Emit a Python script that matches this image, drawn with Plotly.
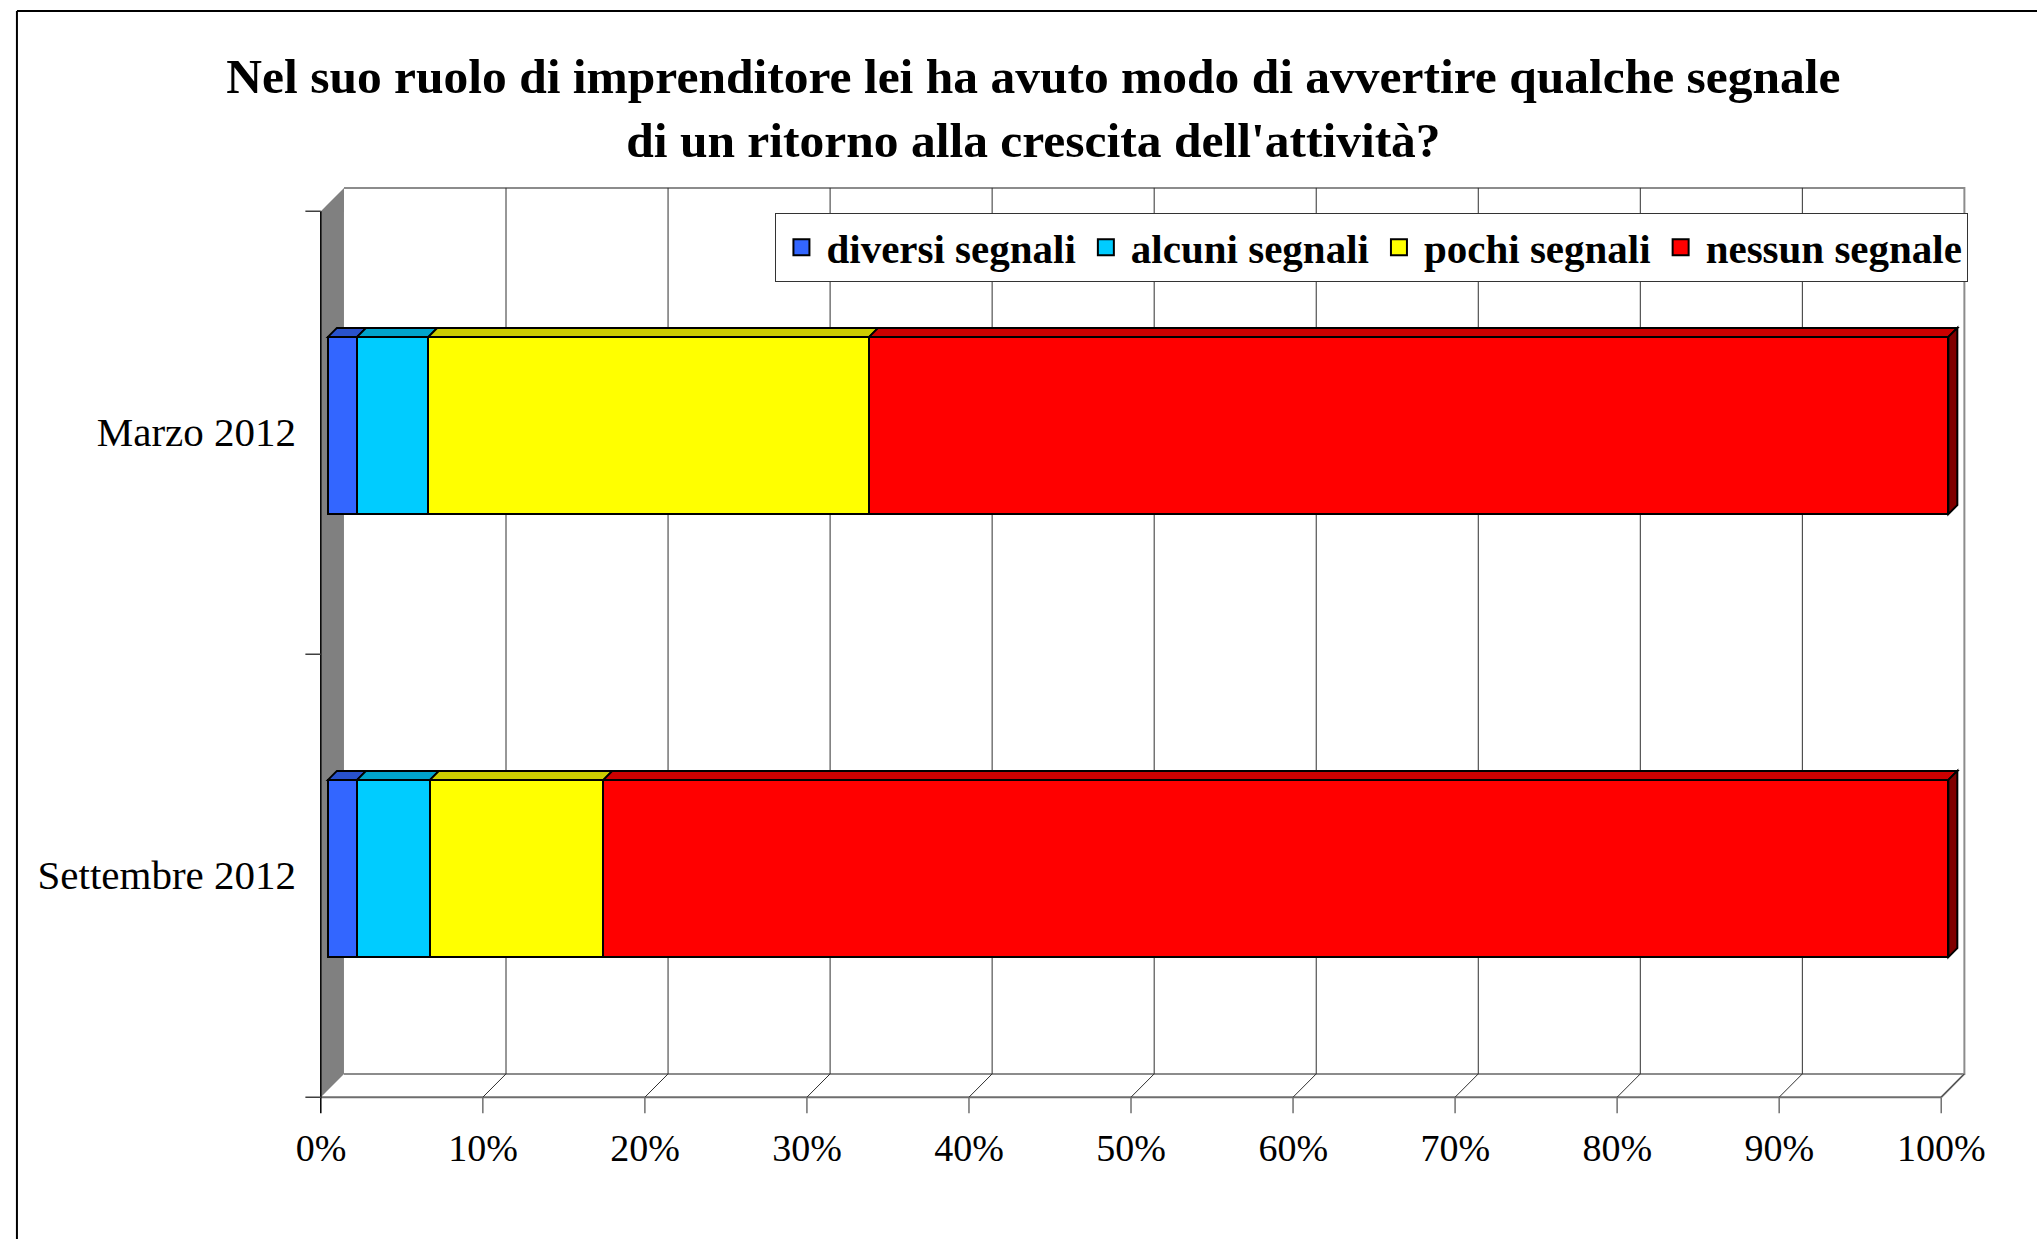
import plotly.graph_objects as go

# ---------------- data ----------------
categories = ["Marzo 2012", "Settembre 2012"]
series_names = ["diversi segnali", "alcuni segnali", "pochi segnali", "nessun segnale"]
diversi = [1.8, 1.8]
alcuni = [4.4, 4.5]
pochi = [27.2, 10.7]
nessun = [66.6, 83.0]
tick_vals = [0, 10, 20, 30, 40, 50, 60, 70, 80, 90, 100]
tick_text = ["0%", "10%", "20%", "30%", "40%", "50%", "60%", "70%", "80%", "90%", "100%"]
title_text = ("Nel suo ruolo di imprenditore lei ha avuto modo di avvertire qualche segnale"
              "<br>di un ritorno alla crescita dell'attività?")

# ---------------- style ----------------
colors = ["#3366FF", "#00CCFF", "#FFFF00", "#FF0000"]
top_colors = ["#2952CC", "#00A3CC", "#CCCC00", "#CC0000"]
side_color = "#800000"
FONT = "Liberation Serif"
W, H = 2042, 1239

# geometry (pixels) of the bar plane
X0_PX, PX_PER_X = 323.7, 16.292
Y0_PX, PX_PER_Y = 425.5, 443.0
BAR_W = 0.40
BAR_DEPTH = 9.0
XR = [-1.6, 102.0]
YR = [1.6, -0.6]


def px_x(v):
    return X0_PX + PX_PER_X * v


def px_y(v):
    return Y0_PX + PX_PER_Y * v


def shift(depth):
    """offset (data units) of a plane at depth px from the front plane, relative to the bar plane"""
    r = depth - 7.2
    return r / PX_PER_X, -r / PX_PER_Y


xdom = [px_x(XR[0]) / W, px_x(XR[1]) / W]
ydom = [1 - px_y(YR[0]) / H, 1 - px_y(YR[1]) / H]

series = [diversi, alcuni, pochi, nessun]

fig = go.Figure()
for name, vals, col in zip(series_names, series, colors):
    fig.add_trace(go.Bar(
        name=name, y=categories, x=vals, orientation="h", width=BAR_W,
        marker=dict(color=col, line=dict(color="black", width=2)),
        hoverinfo="skip", showlegend=False,
    ))
# legend entries (larger square swatches)
for name, col in zip(series_names, colors):
    fig.add_trace(go.Scatter(
        name=name, x=[None], y=[None], mode="markers",
        marker=dict(symbol="square", size=22, color=col, line=dict(color="black", width=2)),
        hoverinfo="skip", showlegend=True,
    ))

shapes = []
fdx, fdy = shift(0)
bdx, bdy = shift(23.3)
ncat = len(categories)
ylo, yhi = -0.5, ncat - 0.5

# left wall (gray)
shapes.append(dict(type="path", xref="x", yref="y", layer="below",
                   path=f"M {0+fdx},{ylo+fdy} L {0+bdx},{ylo+bdy} L {0+bdx},{yhi+bdy} L {0+fdx},{yhi+fdy} Z",
                   fillcolor="#808080", line=dict(width=0)))
# back wall edges
shapes.append(dict(type="path", xref="x", yref="y", layer="below",
                   path=f"M {0+bdx},{ylo+bdy} L {100+bdx},{ylo+bdy} L {100+bdx},{yhi+bdy} L {0+bdx},{yhi+bdy}",
                   line=dict(color="#8c8c8c", width=2)))
# floor right edge
shapes.append(dict(type="line", xref="x", yref="y", layer="below",
                   x0=100 + fdx, y0=yhi + fdy, x1=100 + bdx, y1=yhi + bdy,
                   line=dict(color="#8c8c8c", width=2)))
# floor front edge
shapes.append(dict(type="line", xref="x", yref="y", layer="below",
                   x0=0 + fdx, y0=yhi + fdy, x1=100 + fdx, y1=yhi + fdy,
                   line=dict(color="#6e6e6e", width=2)))
# gridlines on back wall + floor diagonals + x ticks
tick_len = 16 / PX_PER_Y
for t in tick_vals:
    if 0 < t < 100:
        shapes.append(dict(type="line", xref="x", yref="y", layer="below",
                           x0=t + bdx, y0=ylo + bdy, x1=t + bdx, y1=yhi + bdy,
                           line=dict(color="#303030", width=1)))
    if t > 0:
        shapes.append(dict(type="line", xref="x", yref="y", layer="below",
                           x0=t + fdx, y0=yhi + fdy, x1=t + bdx, y1=yhi + bdy,
                           line=dict(color="#303030", width=1)))
    shapes.append(dict(type="line", xref="x", yref="y", layer="below",
                       x0=t + fdx, y0=yhi + fdy, x1=t + fdx, y1=yhi + fdy + tick_len,
                       line=dict(color="#000000" if t == 0 else "#707070", width=1.5)))
# left wall front edge
shapes.append(dict(type="line", xref="x", yref="y", layer="below",
                   x0=0 + fdx, y0=ylo + fdy, x1=0 + fdx, y1=yhi + fdy,
                   line=dict(color="black", width=1.5)))
# y ticks (category boundaries)
ytick_len = 15.5 / PX_PER_X
for k in range(ncat + 1):
    yb = k - 0.5 + fdy
    shapes.append(dict(type="line", xref="x", yref="y", layer="below",
                       x0=0 + fdx - ytick_len, y0=yb, x1=0 + fdx, y1=yb,
                       line=dict(color="#404040", width=1.5)))

# 3D faces of the bars
ddx = BAR_DEPTH / PX_PER_X
ddy = BAR_DEPTH / PX_PER_Y
for ci in range(ncat):
    top = ci - BAR_W / 2
    bot = ci + BAR_W / 2
    start = 0.0
    for si, vals in enumerate(series):
        end = start + vals[ci]
        shapes.append(dict(type="path", xref="x", yref="y", layer="above",
                           path=f"M {start},{top} L {end},{top} L {end+ddx},{top-ddy} L {start+ddx},{top-ddy} Z",
                           fillcolor=top_colors[si], line=dict(color="black", width=2)))
        start = end
    shapes.append(dict(type="path", xref="x", yref="y", layer="above",
                       path=f"M {start},{top} L {start+ddx},{top-ddy} L {start+ddx},{bot-ddy} L {start},{bot} Z",
                       fillcolor=side_color, line=dict(color="black", width=2)))

# outer chart border (left and top visible)
shapes.append(dict(type="line", xref="paper", yref="paper", x0=11 / W, y0=1 - 11 / H, x1=1.0, y1=1 - 11 / H,
                   line=dict(color="black", width=2)))
shapes.append(dict(type="line", xref="paper", yref="paper", x0=11 / W, y0=1 - 11 / H, x1=11 / W, y1=0.0,
                   line=dict(color="black", width=2)))

fig.update_layout(
    width=W, height=H,
    margin=dict(l=0, r=0, t=0, b=0),
    paper_bgcolor="white", plot_bgcolor="rgba(0,0,0,0)",
    barmode="stack",
    shapes=shapes,
    font=dict(family=FONT, color="black"),
    title=dict(text=f"<b>{title_text}</b>", x=1033 / W, xanchor="center", xref="paper",
               y=1 - 93 / H, yanchor="top", yref="container",
               font=dict(family=FONT, size=49.5, color="black")),
    legend=dict(orientation="h", x=773.6 / W, y=1 - 213 / H, xanchor="left", yanchor="top",
                bgcolor="white", bordercolor="#333333", borderwidth=1,
                font=dict(family=FONT, size=41, color="black", weight="bold"),
                traceorder="normal", itemsizing="trace", itemwidth=40),
    xaxis=dict(domain=xdom, range=XR, showgrid=False, zeroline=False, showline=False,
               tickvals=tick_vals, ticktext=tick_text, ticks="",
               tickfont=dict(family=FONT, size=38, color="black"),
               ticklabelshift=-7, ticklabelstandoff=-12),
    yaxis=dict(domain=ydom, range=YR, type="category", categoryorder="array",
               categoryarray=categories, showgrid=False, zeroline=False, showline=False,
               ticks="", tickfont=dict(family=FONT, size=41, color="black"),
               ticklabelshift=-6, ticklabelstandoff=5),
)

fig.write_html("out.html", config={"displayModeBar": False},
               post_script="document.body.style.margin='0';")
